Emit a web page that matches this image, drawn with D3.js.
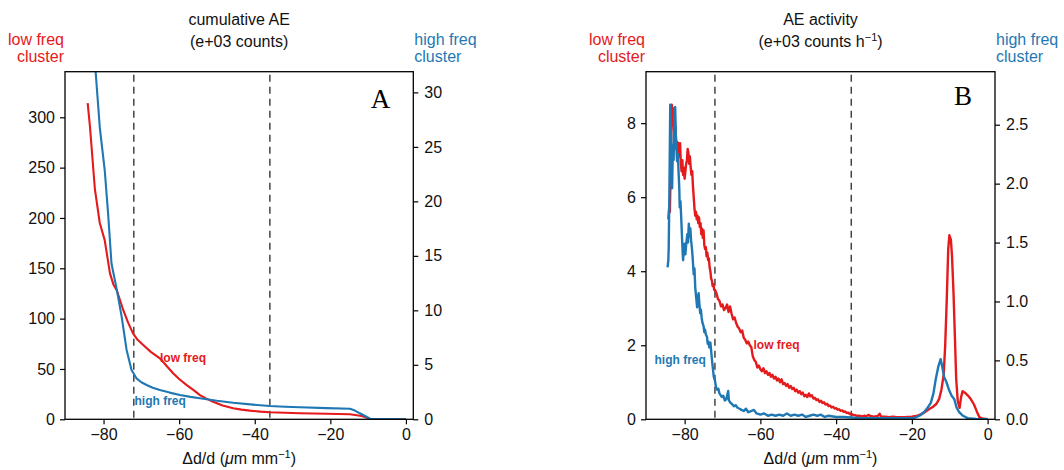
<!DOCTYPE html>
<html>
<head>
<meta charset="utf-8">
<script src="https://cdn.jsdelivr.net/npm/d3@7"></script>
<style>
  body { margin: 0; background: #fff; }
</style>
</head>
<body>
<div id="chart-area"></div>
<script>
// ---- data ----
var xTicks = [-80, -60, -40, -20, 0];
var markers = [-72, -36];

var cumLeftTicks = [0, 50, 100, 150, 200, 250, 300];
var cumRightTicks = [0, 5, 10, 15, 20, 25, 30];
var actLeftTicks = [0, 2, 4, 6, 8];
var actRightTicks = [0, 0.5, 1.0, 1.5, 2.0, 2.5];

// cumulative AE, low freq cluster (left axis, e+03 counts)
var cumLow = [[-84.2,314],[-83.6,291],[-82.3,229],[-81,195],[-79.7,178],[-78.3,145],[-77.4,134],
  [-76.5,128],[-74.8,108.6],[-73.5,96],[-72.2,85.4],[-71,79],[-69.5,73.8],[-67.5,67],[-65.1,60.6],
  [-63.3,53],[-61.6,45.7],[-60,40],[-58,34],[-56,28.5],[-54.5,24],[-52.8,20.5],[-51,17.5],
  [-48.5,13.8],[-45.7,11],[-43.5,9.6],[-41.3,8.6],[-38.5,7.6],[-36,7],[-32,6.5],[-28,6],
  [-21,5.5],[-14.8,5],[-11.7,3.3],[-9.5,0.6],[-6,0.3],[0,0]];

// cumulative AE, high freq cluster (right axis, e+03 counts)
var cumHigh = [[-82.3,35],[-82.1,31.9],[-81,26.8],[-79.7,22.9],[-78.8,18.9],[-77.9,14.3],[-76.5,11.9],
  [-75.2,9.4],[-73.9,6.36],[-72.6,4.52],[-71.3,3.76],[-70,3.4],[-68.6,3.15],[-67,2.9],[-65.1,2.69],
  [-62.5,2.45],[-59.8,2.23],[-57,2.06],[-54.5,1.93],[-50,1.7],[-45.7,1.52],[-40.5,1.35],[-36,1.22],
  [-32,1.15],[-28,1.1],[-21,1.03],[-14.8,0.97],[-13.5,0.8],[-12.2,0.55],[-10.8,0.3],[-9.5,0.05],
  [-6,0.02],[0,0]];

// AE activity, low freq cluster (left axis, e+03 counts per h)
var actLow = [[-84.3,5.4],[-84.1,5.7],[-83.9,5.6],[-83.6,7.2],[-83.4,8.5],[-83.2,8.1],[-83.0,8.4],
  [-82.8,7.8],[-82.6,7.5],[-82.4,7.9],[-82.2,7.3],[-82.0,7.5],[-81.8,7.2],[-81.6,7.46],[-81.4,7.1],
  [-81.2,7.46],[-81.0,6.9],[-80.8,6.7],[-80.6,7.0],[-80.4,6.6],[-80.2,6.8],[-80.0,6.5],[-79.8,6.7],
  [-79.6,6.9],[-79.4,7.0],[-79.2,7.3],[-79.0,7.2],[-78.8,6.9],[-78.6,7.1],[-78.4,6.8],[-78.2,6.6],
  [-78.0,6.7],[-77.8,6.3],[-77.6,6.0],[-77.4,5.7],[-77.2,5.5],[-77.0,5.6],[-76.8,5.4],[-76.6,5.5],
  [-76.4,5.3],[-76.2,5.45],[-76.0,5.2],[-75.8,5.3],[-75.6,5.0],[-75.4,5.15],[-75.2,4.9],[-75.0,5.1],
  [-74.8,4.7],[-74.6,4.6],[-74.4,4.65],[-74.2,4.4],[-74.0,4.5],[-73.8,4.3],[-73.6,4.35],[-73.4,4.1],
  [-73.2,4.0],[-73.0,3.8],[-72.8,3.75],[-72.6,3.6],[-72.4,3.65],[-72.2,3.5],[-72.0,3.5],[-71.6,3.4],
  [-71.2,3.25],[-70.8,3.2],[-70.4,3.05],[-70.0,3.1],[-69.6,2.95],[-69.2,3.0],[-68.8,3.1],[-68.4,2.9],
  [-68.0,3.05],[-67.6,2.85],[-67.2,2.7],[-66.8,2.75],[-66.4,2.6],[-66.0,2.5],[-65.6,2.45],[-65.2,2.35],
  [-64.8,2.4],[-64.4,2.2],[-64.0,2.15],[-63.6,2.05],[-63.2,2.1],[-62.8,2.0],[-62.4,1.95],[-62.0,1.7],
  [-61.6,1.6],[-61.2,1.55],[-60.8,1.4],[-60.4,1.45],[-60.0,1.35],[-59.6,1.3],[-59.2,1.38],[-58.8,1.25],
  [-58.4,1.3],[-58.0,1.2],[-57.6,1.25],[-57.2,1.15],[-56.8,1.2],[-56.4,1.1],[-56.0,1.15],[-55.6,1.05],
  [-55.2,1.1],[-54.8,1.0],[-54.4,1.08],[-54.0,0.95],[-53.6,0.98],[-53.2,0.9],[-52.8,0.95],[-52.4,0.85],
  [-52.0,0.9],[-51.6,0.82],[-51.2,0.85],[-50.8,0.76],[-50.4,0.8],[-50.0,0.72],[-49.6,0.76],[-49.2,0.68],
  [-48.8,0.72],[-48.4,0.62],[-48.0,0.66],[-47.6,0.6],[-47.2,0.7],[-46.8,0.62],[-46.4,0.65],[-46.0,0.56],
  [-45.6,0.58],[-45.2,0.52],[-44.8,0.54],[-44.4,0.47],[-44.0,0.5],[-43.6,0.44],[-43.2,0.46],[-42.8,0.4],
  [-42.4,0.42],[-42.0,0.36],[-41.6,0.37],[-41.2,0.32],[-40.8,0.34],[-40.4,0.29],[-40.0,0.3],[-39.6,0.26],
  [-39.2,0.27],[-38.8,0.23],[-38.4,0.24],[-38.0,0.2],[-37.6,0.21],[-37.2,0.17],[-36.8,0.18],[-36.4,0.14],
  [-36.0,0.15],[-35.5,0.12],[-35.0,0.11],[-34.5,0.09],[-34.0,0.1],[-33.0,0.08],[-32.5,0.1],[-32.0,0.08],
  [-31.5,0.12],[-31.0,0.09],[-30.0,0.07],[-29.0,0.09],[-28.5,0.15],[-28.2,0.08],[-27.0,0.07],[-26.0,0.06],
  [-25.0,0.07],[-24.0,0.06],[-22.0,0.06],[-20.0,0.07],[-18.5,0.1],[-17.5,0.14],[-16.5,0.2],[-15.5,0.27],
  [-14.5,0.33],[-13.5,0.42],[-12.8,0.55],[-12.2,0.8],[-11.6,1.2],[-11.2,2.0],[-10.8,3.2],[-10.4,4.6],
  [-10.1,4.97],[-9.7,4.85],[-9.4,4.4],[-9.0,3.4],[-8.6,2.1],[-8.3,1.1],[-7.9,0.5],[-7.4,0.31],
  [-7.0,0.6],[-6.6,0.76],[-6.0,0.72],[-5.2,0.64],[-4.4,0.54],[-3.6,0.4],[-2.8,0.2],[-2.2,0.06],
  [-1.5,0.02],[0,0.0]];

// AE activity, high freq cluster (right axis, e+03 counts per h)
var actHigh = [[-84.5,1.29],[-84.3,1.35],[-84.2,1.46],[-84.0,2.0],[-83.8,2.67],[-83.6,2.4],[-83.4,2.1],
  [-83.3,1.96],[-83.1,2.33],[-82.9,2.2],[-82.7,2.64],[-82.5,2.65],[-82.3,2.4],[-82.1,2.25],[-82.0,2.19],
  [-81.8,2.25],[-81.6,2.10],[-81.4,1.95],[-81.3,1.80],[-81.1,1.85],[-80.9,1.71],[-80.7,1.55],[-80.5,1.40],
  [-80.4,1.35],[-80.2,1.45],[-80.0,1.49],[-79.8,1.40],[-79.6,1.48],[-79.3,1.57],[-79.1,1.50],[-78.9,1.66],
  [-78.7,1.55],[-78.5,1.62],[-78.3,1.52],[-78.1,1.46],[-77.9,1.38],[-77.6,1.23],[-77.4,1.28],[-77.2,1.12],
  [-77.0,1.05],[-76.7,0.95],[-76.5,1.02],[-76.3,1.07],[-76.1,0.98],[-75.9,0.90],[-75.7,0.93],[-75.5,0.86],
  [-75.3,0.82],[-75.0,0.79],[-74.8,0.74],[-74.6,0.76],[-74.4,0.72],[-74.1,0.70],[-73.9,0.64],[-73.7,0.66],
  [-73.5,0.61],[-73.2,0.65],[-73.0,0.58],[-72.8,0.51],[-72.6,0.45],[-72.3,0.36],[-72.0,0.33],[-71.7,0.27],
  [-71.4,0.25],[-71.1,0.26],[-70.8,0.22],[-70.6,0.21],[-70.2,0.19],[-69.8,0.2],[-69.4,0.16],[-69.0,0.17],
  [-68.8,0.20],[-68.5,0.24],[-68.3,0.16],[-67.9,0.14],[-67.5,0.13],[-67.0,0.11],[-66.5,0.12],[-66.1,0.10],
  [-65.5,0.09],[-65.0,0.08],[-64.4,0.07],[-63.8,0.09],[-63.2,0.06],[-62.5,0.07],[-61.7,0.08],[-61.0,0.05],
  [-60,0.04],[-59,0.05],[-58,0.03],[-57,0.04],[-56,0.03],[-55,0.04],[-54,0.03],[-53,0.05],[-52,0.03],
  [-51,0.04],[-50,0.03],[-49,0.04],[-48,0.02],[-47,0.03],[-46,0.04],[-45,0.03],[-44.1,0.04],[-43,0.02],
  [-42,0.03],[-40,0.02],[-38,0.02],[-36,0.015],[-33.5,0.01],[-30,0.01],[-26,0.01],[-22,0.01],[-19.5,0.01],
  [-18,0.03],[-16.8,0.06],[-15.8,0.1],[-15,0.14],[-14.3,0.22],[-13.7,0.34],[-13.0,0.45],[-12.4,0.51],
  [-12.0,0.45],[-11.5,0.36],[-10.8,0.31],[-10.2,0.25],[-9.5,0.2],[-8.8,0.17],[-8.2,0.1],[-7.5,0.06],
  [-6.5,0.03],[-5.3,0.01],[-3,0.003],[0,0]];

var red = "#e41a1c", blue = "#1f78b4";
var sans = "'Liberation Sans', Arial, sans-serif";

var svg = d3.select("#chart-area").append("svg")
    .attr("width", 1064)
    .attr("height", 470)
    .style("font-family", sans);

function panel(opt) {
    var left = opt.left, right = opt.right, top = 71.7, bottom = 419.3;
    var g = svg.append("g");

    var x = d3.scaleLinear().domain([-90.2, 1.95]).range([left, right]);
    var yL = d3.scaleLinear().domain([0, opt.leftMax]).range([bottom, top]);
    var yR = d3.scaleLinear().domain([0, opt.rightMax]).range([bottom, top]);

    g.append("clipPath").attr("id", "clip" + opt.id)
      .append("rect").attr("x", left).attr("y", top)
        .attr("width", right - left).attr("height", bottom - top);

    // dashed markers
    g.selectAll(".mark").data(markers).enter().append("line")
        .attr("x1", (d)=>x(d)).attr("x2", (d)=>x(d))
        .attr("y1", top + 3).attr("y2", bottom)
        .attr("stroke", "#444").attr("stroke-width", 1.5)
        .attr("stroke-dasharray", "7,5");

    var lineL = d3.line().x((d)=>x(d[0])).y((d)=>yL(d[1]));
    var lineR = d3.line().x((d)=>x(d[0])).y((d)=>yR(d[1]));

    var lines = g.append("g").attr("clip-path", "url(#clip" + opt.id + ")");
    lines.append("path").datum(opt.low).attr("d", lineL)
        .attr("fill", "none").attr("stroke", red).attr("stroke-width", opt.lw)
        .attr("stroke-linejoin", "round");
    lines.append("path").datum(opt.high).attr("d", lineR)
        .attr("fill", "none").attr("stroke", blue).attr("stroke-width", opt.lw)
        .attr("stroke-linejoin", "round");

    // box
    g.append("rect").attr("x", left).attr("y", top)
        .attr("width", right - left).attr("height", bottom - top)
        .attr("fill", "none").attr("stroke", "#000").attr("stroke-width", 1.3);

    // axes
    var fs = "16px";
    var ax = g.append("g").attr("transform", "translate(0," + bottom + ")")
        .call(d3.axisBottom(x).tickValues(xTicks).tickSize(5).tickPadding(4));
    var ayl = g.append("g").attr("transform", "translate(" + left + ",0)")
        .call(d3.axisLeft(yL).tickValues(opt.leftTicks).tickSize(5).tickPadding(5));
    var ayr = g.append("g").attr("transform", "translate(" + right + ",0)")
        .call(d3.axisRight(yR).tickValues(opt.rightTicks).tickFormat(opt.rightFmt).tickSize(5).tickPadding(6));
    [ax, ayl, ayr].forEach((a)=>{
        a.select(".domain").remove();
        a.selectAll("line").attr("stroke", "#000").attr("stroke-width", 1.2);
        a.selectAll("text").attr("font-size", fs).attr("fill", "#111")
          .attr("font-family", sans);
    });

    var cx = (left + right) / 2;
    // x title
    var xt = g.append("text").attr("x", cx).attr("y", 464).attr("text-anchor", "middle")
        .attr("font-size", fs).attr("fill", "#111");
    xt.append("tspan").text("\u0394d/d (");
    xt.append("tspan").attr("font-style", "italic").text("\u03bc");
    xt.append("tspan").text("m mm");
    xt.append("tspan").attr("dy", -6).attr("font-size", "11px").text("\u22121");
    xt.append("tspan").attr("dy", 6).text(")");

    // top titles
    g.append("text").attr("x", cx).attr("y", 25).attr("text-anchor", "middle")
        .attr("font-size", fs).attr("fill", "#111").text(opt.title1);
    var t2 = g.append("text").attr("x", cx).attr("y", 47).attr("text-anchor", "middle")
        .attr("font-size", fs).attr("fill", "#111");
    t2.append("tspan").text(opt.title2);
    if (opt.sup) {
        t2.append("tspan").attr("dy", -6).attr("font-size", "11px").text(opt.sup);
        t2.append("tspan").attr("dy", 6).text(")");
    }

    // cluster labels
    [["low freq", 45], ["cluster", 62]].forEach((t)=>{
        g.append("text").attr("x", left - 1).attr("y", t[1]).attr("text-anchor", "end")
            .attr("font-size", fs).attr("fill", red).text(t[0]);
    });
    [["high freq", 45], ["cluster", 62]].forEach((t)=>{
        g.append("text").attr("x", right + 1).attr("y", t[1])
            .attr("font-size", fs).attr("fill", blue).text(t[0]);
    });

    // in-plot labels
    g.append("text").attr("x", opt.lowLab[0]).attr("y", opt.lowLab[1])
        .attr("font-size", "12px").attr("font-weight", "bold").attr("fill", red).text("low freq");
    g.append("text").attr("x", opt.highLab[0]).attr("y", opt.highLab[1])
        .attr("font-size", "12px").attr("font-weight", "bold").attr("fill", blue).text("high freq");

    // panel letter
    g.append("text").attr("x", right - 23).attr("y", opt.letterY).attr("text-anchor", "end")
        .style("font-family", "'Liberation Serif', 'Times New Roman', serif")
        .attr("font-size", "27px").attr("fill", "#000").text(opt.letter);
}

panel({
    id: "A", left: 65, right: 413.3, lw: 2.1,
    leftMax: 345.3, rightMax: 31.9,
    leftTicks: cumLeftTicks, rightTicks: cumRightTicks, rightFmt: d3.format("d"),
    low: cumLow, high: cumHigh,
    title1: "cumulative AE", title2: "(e+03 counts)",
    lowLab: [160, 361.5], highLab: [134.5, 404.5],
    letter: "A", letterY: 108
});

panel({
    id: "B", left: 646, right: 995, lw: 2.4,
    leftMax: 9.39, rightMax: 2.95,
    leftTicks: actLeftTicks, rightTicks: actRightTicks, rightFmt: d3.format(".1f"),
    low: actLow, high: actHigh,
    title1: "AE activity", title2: "(e+03 counts h", sup: "\u22121",
    lowLab: [753.5, 349], highLab: [654.5, 364],
    letter: "B", letterY: 105
});
</script>
</body>
</html>
